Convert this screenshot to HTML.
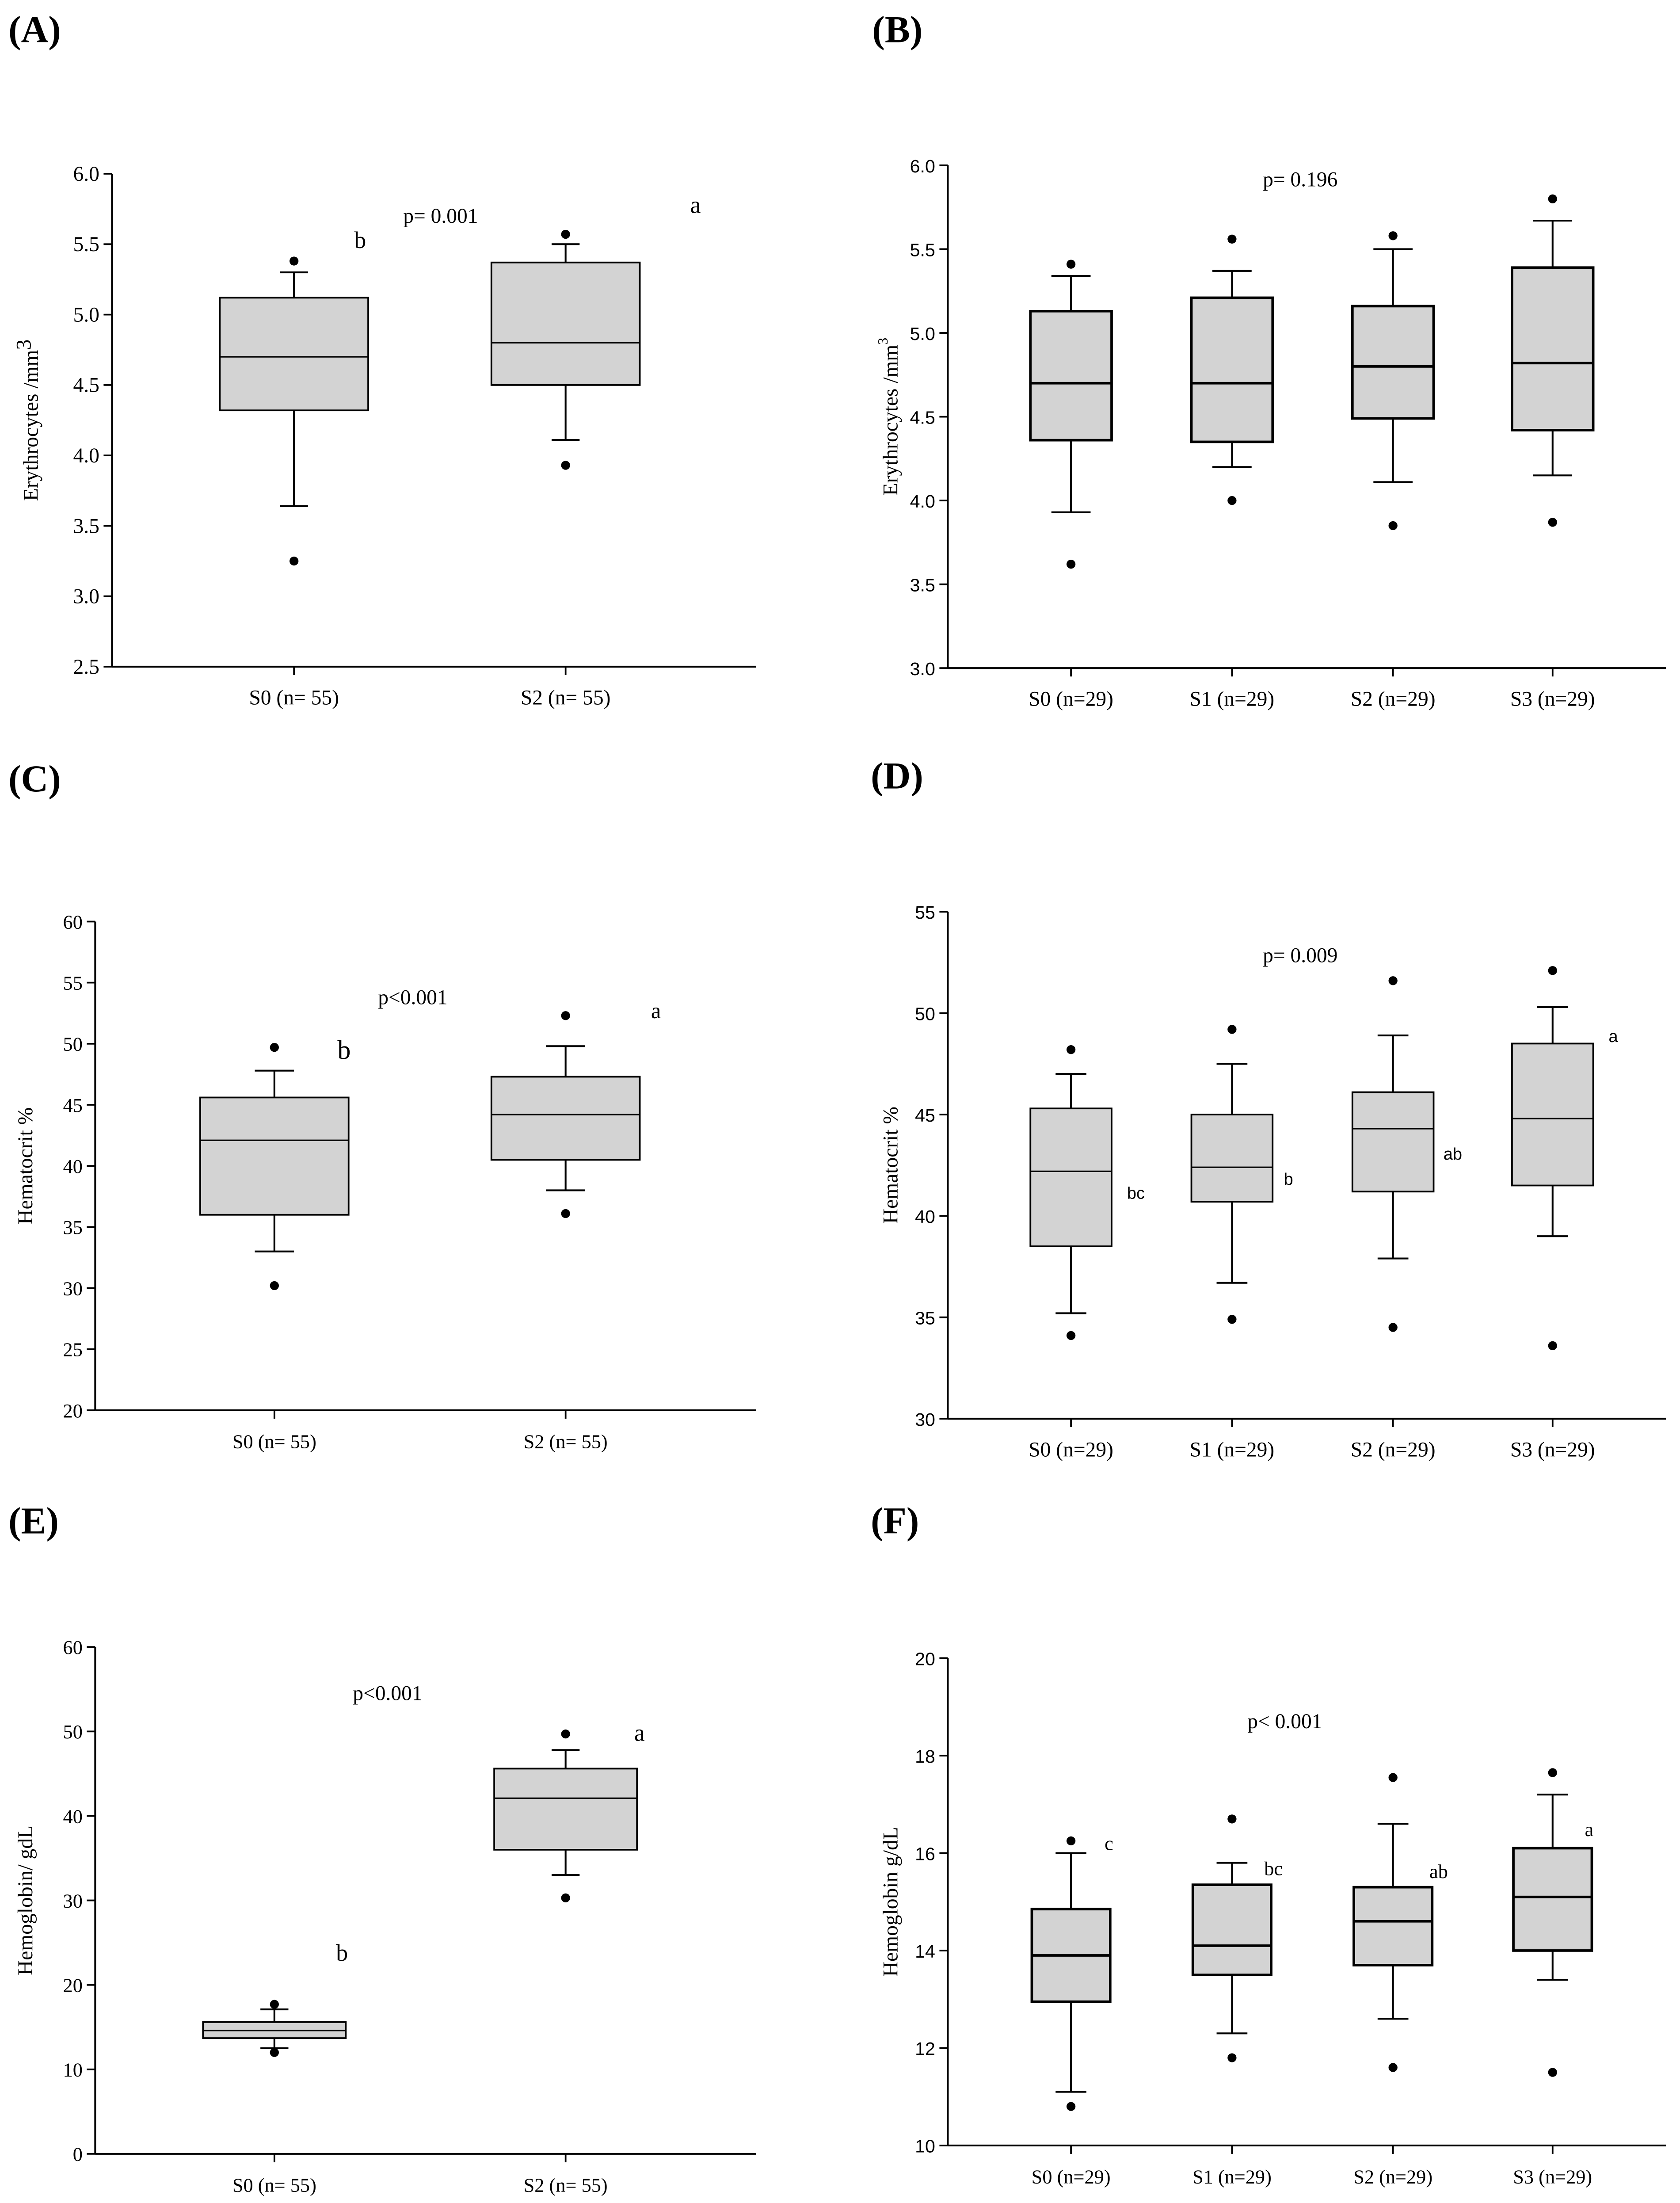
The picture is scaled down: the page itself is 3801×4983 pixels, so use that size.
<!DOCTYPE html>
<html><head><meta charset="utf-8">
<style>
html,body{margin:0;padding:0;background:#fff;}
svg{display:block;}
text{font-family:"Liberation Serif",serif;fill:#000;}
.sans{font-family:"Liberation Sans",sans-serif;}
</style></head>
<body>
<svg id="fig" width="3801" height="4983" viewBox="0 0 1200 1573" xmlns="http://www.w3.org/2000/svg">
<rect width="1200" height="1573" fill="#fff"/>
</svg>
<script>
// ---- Data arrays ----
const catsA = ["S0 (n= 55)", "S2 (n= 55)"];
const catsB = ["S0 (n=29)", "S1 (n=29)", "S2 (n=29)", "S3 (n=29)"];

// [q1, median, q3, whiskerLow, whiskerHigh, outLow, outHigh]
const statsA = [[4.32,4.70,5.12,3.64,5.30,3.25,5.38],[4.50,4.80,5.37,4.11,5.50,3.93,5.57]];
const ticksA = ["2.5","3.0","3.5","4.0","4.5","5.0","5.5","6.0"];
const lettersA = ["b","a"];
const statsB = [[4.36,4.70,5.13,3.93,5.34,3.62,5.41],[4.35,4.70,5.21,4.20,5.37,4.00,5.56],[4.49,4.80,5.16,4.11,5.50,3.85,5.58],[4.42,4.82,5.39,4.15,5.67,3.87,5.80]];
const ticksB = ["3.0","3.5","4.0","4.5","5.0","5.5","6.0"];
const statsC = [[36.0,42.1,45.6,33.0,47.8,30.2,49.7],[40.5,44.2,47.3,38.0,49.8,36.1,52.3]];
const ticksC = ["20","25","30","35","40","45","50","55","60"];
const lettersC = ["b","a"];
const statsD = [[38.5,42.2,45.3,35.2,47.0,34.1,48.2],[40.7,42.4,45.0,36.7,47.5,34.9,49.2],[41.2,44.3,46.1,37.9,48.9,34.5,51.6],[41.5,44.8,48.5,39.0,50.3,33.6,52.1]];
const ticksD = ["30","35","40","45","50","55"];
const lettersD = ["bc","b","ab","a"];
const statsE = [[13.7,14.6,15.6,12.5,17.1,12.0,17.7],[36.0,42.1,45.6,33.0,47.8,30.3,49.7]];
const ticksE = ["0","10","20","30","40","50","60"];
const lettersE = ["b","a"];
const statsF = [[12.95,13.9,14.85,11.1,16.0,10.8,16.25],[13.5,14.1,15.35,12.3,15.8,11.8,16.7],[13.7,14.6,15.3,12.6,16.6,11.6,17.55],[14.0,15.1,16.1,13.4,17.2,11.5,17.65]];
const ticksF = ["10","12","14","16","18","20"];
const lettersF = ["c","bc","ab","a"];

const NS = "http://www.w3.org/2000/svg";
const svg = document.getElementById('fig');
function mk(tag, attrs, parent, txt){
  const e = document.createElementNS(NS, tag);
  for (const k in attrs) e.setAttribute(k, attrs[k]);
  if (txt !== undefined) e.textContent = txt;
  (parent||svg).appendChild(e);
  return e;
}

function panel(o){
  const g = mk('g', {});
  
  
  const y = v => o.yBot - (v - o.ymin) / (o.ymax - o.ymin) * (o.yBot - o.yTop);
  const pl = mk('text', {x:o.letterX, y:o.letterY, 'font-size':27, 'font-weight':'bold'}, g, o.letter);
  
  
  const ya = mk('line', {x1:o.ax, y1:o.yTop, x2:o.ax, y2:o.yBot, stroke:'#000', 'stroke-width':1.3}, g);
  
  
  const xa = mk('line', {x1:o.ax, y1:o.yBot, x2:o.axEnd, y2:o.yBot, stroke:'#000', 'stroke-width':1.3}, g);
  
  
  o.ticks.forEach(t => {
    const v = parseFloat(t), yy = y(v);
    mk('line', {x1:o.ax-6, y1:yy, x2:o.ax, y2:yy, stroke:'#000', 'stroke-width':1.2}, g);
    const tl = mk('text', {x:o.ax-9, y:yy+5, 'text-anchor':'end', 'font-size':o.tickFs, class:o.sans?'sans':''}, g, t);
    
    
  });
  const yt = mk('text', {transform:`translate(${o.titleX},${(o.yTop+o.yBot)/2}) rotate(-90)`, 'text-anchor':'middle', 'font-size':15}, g);
  
  
  yt.textContent = o.title;
  if (o.sup){ mk('tspan', {dy:o.supSmall?-7:-5, 'font-size':o.supSmall?10:15}, yt, o.sup); }
  o.stats.forEach((s, i) => {
    const cx = o.xs[i];
    const bg = mk('g', {}, g);
    
    
    const sw = o.thick ? 1.8 : 1.2;
    mk('line', {x1:cx, y1:o.yBot, x2:cx, y2:o.yBot+6, stroke:'#000', 'stroke-width':1.2}, bg);
    mk('line', {x1:cx, y1:y(s[3]), x2:cx, y2:y(s[0]), stroke:'#000', 'stroke-width':1.3}, bg);
    mk('line', {x1:cx, y1:y(s[2]), x2:cx, y2:y(s[4]), stroke:'#000', 'stroke-width':1.3}, bg);
    mk('line', {x1:cx-o.capW, y1:y(s[3]), x2:cx+o.capW, y2:y(s[3]), stroke:'#000', 'stroke-width':1.3}, bg);
    mk('line', {x1:cx-o.capW, y1:y(s[4]), x2:cx+o.capW, y2:y(s[4]), stroke:'#000', 'stroke-width':1.3}, bg);
    mk('rect', {x:cx-o.bw/2, y:y(s[2]), width:o.bw, height:y(s[0])-y(s[2]), fill:'#d3d3d3', stroke:'#000', 'stroke-width':sw}, bg);
    mk('line', {x1:cx-o.bw/2, y1:y(s[1]), x2:cx+o.bw/2, y2:y(s[1]), stroke:'#000', 'stroke-width':o.thick?1.8:1}, bg);
    mk('circle', {cx:cx, cy:y(s[5]), r:3.2, fill:'#000'}, bg);
    mk('circle', {cx:cx, cy:y(s[6]), r:3.2, fill:'#000'}, bg);
    const xl = mk('text', {x:cx, y:o.yBot+27, 'text-anchor':'middle', 'font-size':o.xFs}, g, o.cats[i]);
    
    
    if (o.letters){
      const lt = mk('text', {x:o.letterPos[i][0], y:o.letterPos[i][1], 'font-size':o.letFs[i], class:o.letSans?'sans':''}, g, o.letters[i]);
      
      
    }
  });
  const pv = mk('text', {x:o.pPos[0], y:o.pPos[1], 'font-size':15}, g, o.p);
  
  
}

const xsL = [210, 404], xsR = [765, 880, 995, 1109];
panel({name:'panel-a', letter:'(A)', letterX:6, letterY:30, ax:80, axEnd:540, yTop:124, yBot:476, ymin:2.5, ymax:6.0,
  ticks:ticksA, tickFs:15, sans:false, title:'Erythrocytes /mm', sup:'3', supSmall:false, titleX:27,
  stats:statsA, cats:catsA, xs:xsL, bw:106, capW:10, thick:false, xFs:15,
  letters:lettersA, letterPos:[[253,177],[493,152]], letFs:[17,17], p:'p= 0.001', pPos:[288,159]});
panel({name:'panel-b', letter:'(B)', letterX:623, letterY:30, ax:677, axEnd:1190, yTop:118, yBot:477, ymin:3.0, ymax:6.0,
  ticks:ticksB, tickFs:13, sans:true, title:'Erythrocytes /mm', sup:'3', supSmall:true, titleX:641,
  stats:statsB, cats:catsB, xs:xsR, bw:58, capW:14, thick:true, xFs:15,
  letters:null, p:'p= 0.196', pPos:[902,133]});
panel({name:'panel-c', letter:'(C)', letterX:6, letterY:565, ax:68, axEnd:540, yTop:658, yBot:1007, ymin:20, ymax:60,
  ticks:ticksC, tickFs:14, sans:false, title:'Hematocrit  %', titleX:23,
  stats:statsC, cats:catsA, xs:[196,404], bw:106, capW:14, thick:false, xFs:14,
  letters:lettersC, letterPos:[[241,756],[465,727]], letFs:[19,16], p:'p<0.001', pPos:[270,717]});
panel({name:'panel-d', letter:'(D)', letterX:622, letterY:563, ax:677, axEnd:1190, yTop:651, yBot:1013, ymin:30, ymax:55,
  ticks:ticksD, tickFs:13, sans:true, title:'Hematocrit %', titleX:641,
  stats:statsD, cats:catsB, xs:xsR, bw:58, capW:11, thick:false, xFs:15,
  letters:lettersD, letSans:true, letterPos:[[805,856],[917,846],[1031,828],[1149,744]], letFs:[12,12,12,12], p:'p= 0.009', pPos:[902,687]});
panel({name:'panel-e', letter:'(E)', letterX:6, letterY:1095, ax:68, axEnd:540, yTop:1176, yBot:1538, ymin:0, ymax:60,
  ticks:ticksE, tickFs:14, sans:false, title:'Hemoglobin/ gdL', titleX:23,
  stats:statsE, cats:catsA, xs:[196,404], bw:102, capW:10, thick:false, xFs:14,
  letters:lettersE, letterPos:[[240,1400],[453,1243]], letFs:[17,17], p:'p<0.001', pPos:[252,1214]});
panel({name:'panel-f', letter:'(F)', letterX:622, letterY:1095, ax:677, axEnd:1190, yTop:1184, yBot:1532, ymin:10, ymax:20,
  ticks:ticksF, tickFs:13, sans:true, title:'Hemoglobin g/dL', titleX:641,
  stats:statsF, cats:catsB, xs:xsR, bw:56, capW:11, thick:true, xFs:14,
  letters:lettersF, letterPos:[[789,1321],[903,1339],[1021,1341],[1132,1311]], letFs:[14,14,14,14], p:'p< 0.001', pPos:[891,1234]});
</script>
</body></html>
